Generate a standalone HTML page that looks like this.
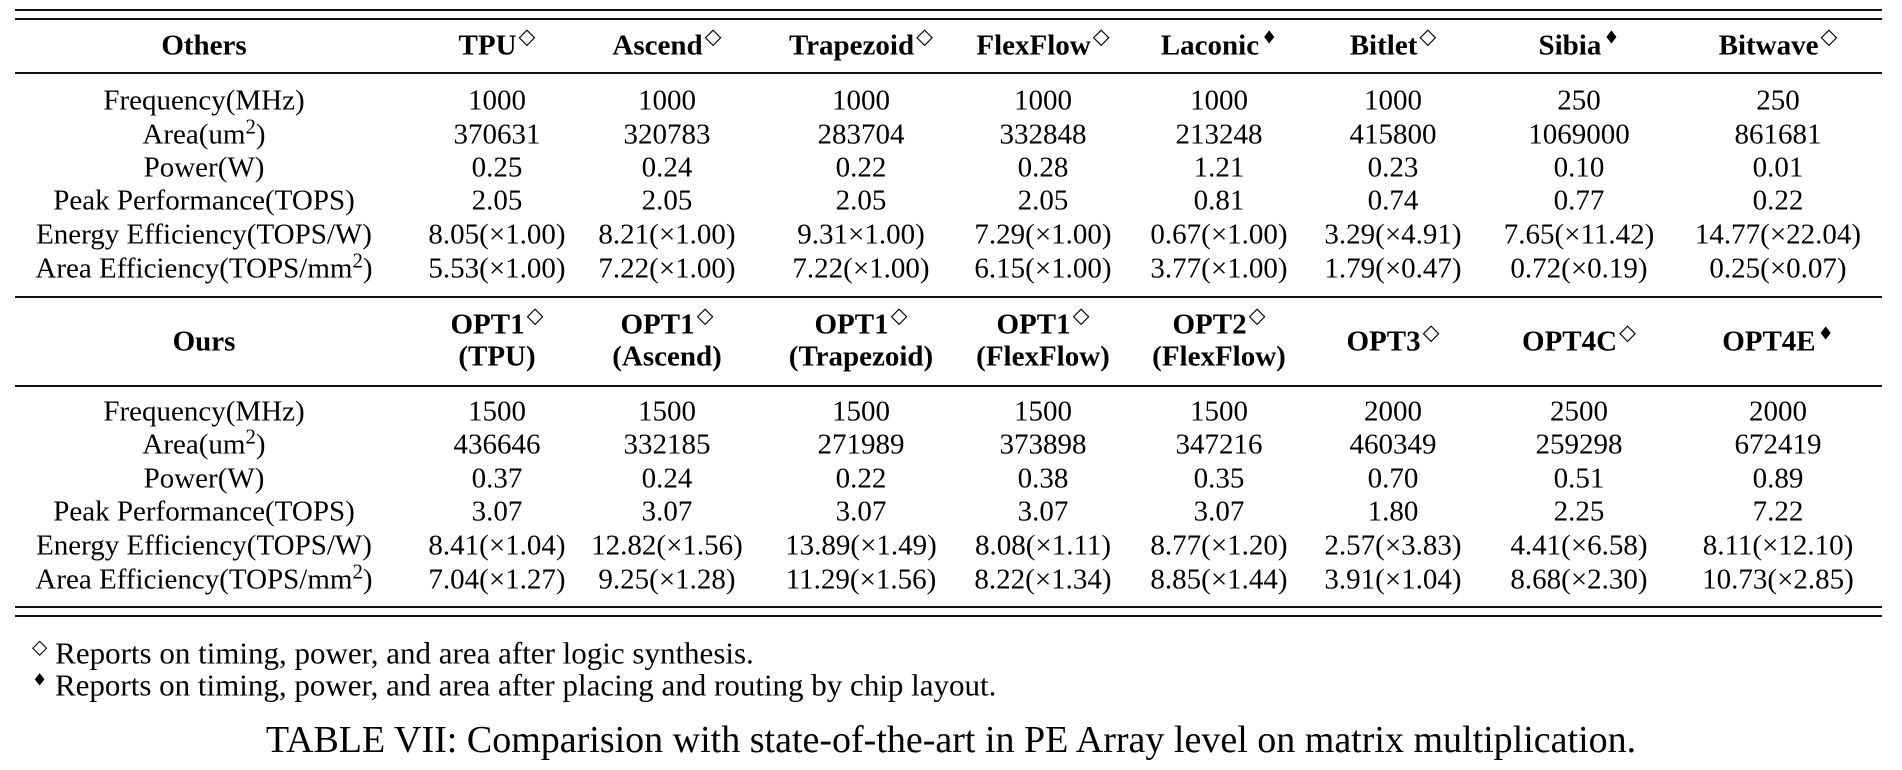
<!DOCTYPE html>
<html><head><meta charset="utf-8">
<style>
html,body{margin:0;padding:0;background:#fff;}
body{width:1902px;height:770px;position:relative;overflow:hidden;font-family:"Liberation Serif","DejaVu Serif",serif;color:#000;}
.t{position:absolute;transform:translate(-50%,-50%);white-space:nowrap;font-size:29px;line-height:1;}
.b{font-weight:bold;}
.r{position:absolute;left:15px;width:1867px;height:2px;background:#111;}
sup{font-size:0.72em;vertical-align:0;position:relative;top:-0.5em;line-height:0;}
.d{font-size:22px;position:relative;top:-11px;margin-left:2px;font-weight:normal;}
.f{font-family:"DejaVu Sans",sans-serif;font-size:18px;position:relative;top:-11px;margin-left:2px;font-weight:normal;}
.c0{left:204px}.c1{left:497px}.c2{left:667px}.c3{left:861px}.c4{left:1043px}.c5{left:1219px}.c6{left:1393px}.c7{left:1579px}.c8{left:1778px}
.h{top:46px}
.a1{top:101px}.a2{top:135px}.a3{top:168px}.a4{top:201px}.a5{top:235px}.a6{top:269px}
.o1{top:325px}.o2{top:357px}.om{top:342px}
.b1{top:412px}.b2{top:445px}.b3{top:479px}.b4{top:512px}.b5{top:546px}.b6{top:580px}
.fn{position:absolute;left:32px;font-size:31px;line-height:1;white-space:nowrap;transform:translateY(-50%);}
.fd{font-size:20px;position:relative;top:-10px;}
.ff{font-family:"DejaVu Sans",sans-serif;font-size:17px;position:relative;top:-10px;}
.cap{position:absolute;left:951px;top:740px;transform:translate(-50%,-50%);font-size:38px;white-space:nowrap;line-height:1;}
</style></head><body>
<div class="r" style="top:9px"></div>
<div class="r" style="top:18px"></div>
<div class="r" style="top:72px"></div>
<div class="r" style="top:296px"></div>
<div class="r" style="top:385px"></div>
<div class="r" style="top:606px"></div>
<div class="r" style="top:615px"></div>

<div class="t b c0 h">Others</div>
<div class="t b c1 h">TPU<span class="d">◇</span></div>
<div class="t b c2 h">Ascend<span class="d">◇</span></div>
<div class="t b c3 h">Trapezoid<span class="d">◇</span></div>
<div class="t b c4 h">FlexFlow<span class="d">◇</span></div>
<div class="t b c5 h">Laconic<span class="f">♦</span></div>
<div class="t b c6 h">Bitlet<span class="d">◇</span></div>
<div class="t b c7 h">Sibia<span class="f">♦</span></div>
<div class="t b c8 h">Bitwave<span class="d">◇</span></div>

<div class="t c0 a1">Frequency(MHz)</div>
<div class="t c0 a2">Area(um<sup>2</sup>)</div>
<div class="t c0 a3">Power(W)</div>
<div class="t c0 a4">Peak Performance(TOPS)</div>
<div class="t c0 a5">Energy Efficiency(TOPS/W)</div>
<div class="t c0 a6">Area Efficiency(TOPS/mm<sup>2</sup>)</div>

<div class="t c1 a1">1000</div><div class="t c2 a1">1000</div><div class="t c3 a1">1000</div><div class="t c4 a1">1000</div><div class="t c5 a1">1000</div><div class="t c6 a1">1000</div><div class="t c7 a1">250</div><div class="t c8 a1">250</div>
<div class="t c1 a2">370631</div><div class="t c2 a2">320783</div><div class="t c3 a2">283704</div><div class="t c4 a2">332848</div><div class="t c5 a2">213248</div><div class="t c6 a2">415800</div><div class="t c7 a2">1069000</div><div class="t c8 a2">861681</div>
<div class="t c1 a3">0.25</div><div class="t c2 a3">0.24</div><div class="t c3 a3">0.22</div><div class="t c4 a3">0.28</div><div class="t c5 a3">1.21</div><div class="t c6 a3">0.23</div><div class="t c7 a3">0.10</div><div class="t c8 a3">0.01</div>
<div class="t c1 a4">2.05</div><div class="t c2 a4">2.05</div><div class="t c3 a4">2.05</div><div class="t c4 a4">2.05</div><div class="t c5 a4">0.81</div><div class="t c6 a4">0.74</div><div class="t c7 a4">0.77</div><div class="t c8 a4">0.22</div>
<div class="t c1 a5">8.05(×1.00)</div><div class="t c2 a5">8.21(×1.00)</div><div class="t c3 a5">9.31×1.00)</div><div class="t c4 a5">7.29(×1.00)</div><div class="t c5 a5">0.67(×1.00)</div><div class="t c6 a5">3.29(×4.91)</div><div class="t c7 a5">7.65(×11.42)</div><div class="t c8 a5">14.77(×22.04)</div>
<div class="t c1 a6">5.53(×1.00)</div><div class="t c2 a6">7.22(×1.00)</div><div class="t c3 a6">7.22(×1.00)</div><div class="t c4 a6">6.15(×1.00)</div><div class="t c5 a6">3.77(×1.00)</div><div class="t c6 a6">1.79(×0.47)</div><div class="t c7 a6">0.72(×0.19)</div><div class="t c8 a6">0.25(×0.07)</div>

<div class="t b c0 om">Ours</div>
<div class="t b c1 o1">OPT1<span class="d">◇</span></div><div class="t b c1 o2">(TPU)</div>
<div class="t b c2 o1">OPT1<span class="d">◇</span></div><div class="t b c2 o2">(Ascend)</div>
<div class="t b c3 o1">OPT1<span class="d">◇</span></div><div class="t b c3 o2">(Trapezoid)</div>
<div class="t b c4 o1">OPT1<span class="d">◇</span></div><div class="t b c4 o2">(FlexFlow)</div>
<div class="t b c5 o1">OPT2<span class="d">◇</span></div><div class="t b c5 o2">(FlexFlow)</div>
<div class="t b c6 om">OPT3<span class="d">◇</span></div>
<div class="t b c7 om">OPT4C<span class="d">◇</span></div>
<div class="t b c8 om">OPT4E<span class="f">♦</span></div>

<div class="t c0 b1">Frequency(MHz)</div>
<div class="t c0 b2">Area(um<sup>2</sup>)</div>
<div class="t c0 b3">Power(W)</div>
<div class="t c0 b4">Peak Performance(TOPS)</div>
<div class="t c0 b5">Energy Efficiency(TOPS/W)</div>
<div class="t c0 b6">Area Efficiency(TOPS/mm<sup>2</sup>)</div>

<div class="t c1 b1">1500</div><div class="t c2 b1">1500</div><div class="t c3 b1">1500</div><div class="t c4 b1">1500</div><div class="t c5 b1">1500</div><div class="t c6 b1">2000</div><div class="t c7 b1">2500</div><div class="t c8 b1">2000</div>
<div class="t c1 b2">436646</div><div class="t c2 b2">332185</div><div class="t c3 b2">271989</div><div class="t c4 b2">373898</div><div class="t c5 b2">347216</div><div class="t c6 b2">460349</div><div class="t c7 b2">259298</div><div class="t c8 b2">672419</div>
<div class="t c1 b3">0.37</div><div class="t c2 b3">0.24</div><div class="t c3 b3">0.22</div><div class="t c4 b3">0.38</div><div class="t c5 b3">0.35</div><div class="t c6 b3">0.70</div><div class="t c7 b3">0.51</div><div class="t c8 b3">0.89</div>
<div class="t c1 b4">3.07</div><div class="t c2 b4">3.07</div><div class="t c3 b4">3.07</div><div class="t c4 b4">3.07</div><div class="t c5 b4">3.07</div><div class="t c6 b4">1.80</div><div class="t c7 b4">2.25</div><div class="t c8 b4">7.22</div>
<div class="t c1 b5">8.41(×1.04)</div><div class="t c2 b5">12.82(×1.56)</div><div class="t c3 b5">13.89(×1.49)</div><div class="t c4 b5">8.08(×1.11)</div><div class="t c5 b5">8.77(×1.20)</div><div class="t c6 b5">2.57(×3.83)</div><div class="t c7 b5">4.41(×6.58)</div><div class="t c8 b5">8.11(×12.10)</div>
<div class="t c1 b6">7.04(×1.27)</div><div class="t c2 b6">9.25(×1.28)</div><div class="t c3 b6">11.29(×1.56)</div><div class="t c4 b6">8.22(×1.34)</div><div class="t c5 b6">8.85(×1.44)</div><div class="t c6 b6">3.91(×1.04)</div><div class="t c7 b6">8.68(×2.30)</div><div class="t c8 b6">10.73(×2.85)</div>

<div class="fn" style="top:653px"><span class="fd">◇</span> Reports on timing, power, and area after logic synthesis.</div>
<div class="fn" style="top:685px"><span class="ff">♦</span> Reports on timing, power, and area after placing and routing by chip layout.</div>
<div class="cap">TABLE VII: Comparision with state-of-the-art in PE Array level on matrix multiplication.</div>
</body></html>
